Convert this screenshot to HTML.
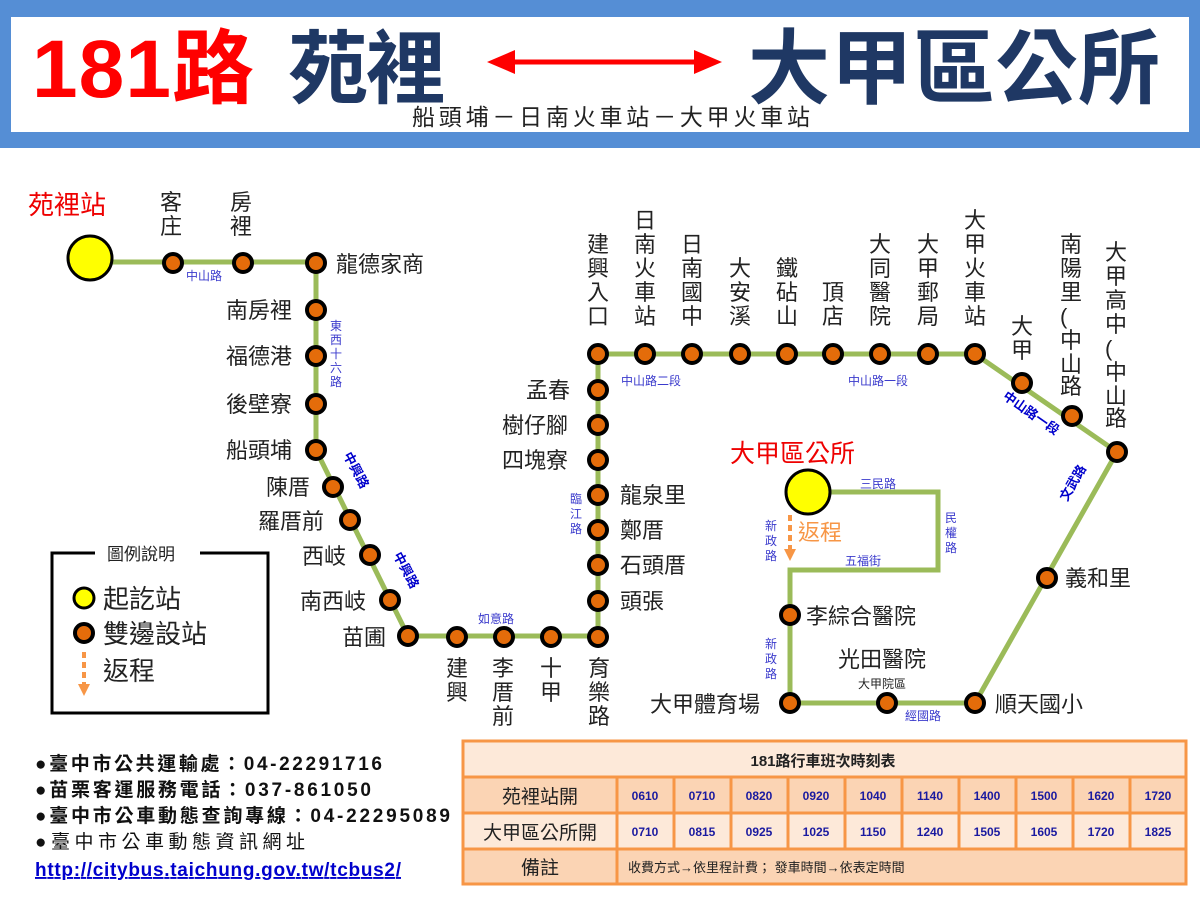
<!DOCTYPE html>
<html><head><meta charset="utf-8"><style>
body{margin:0;width:1200px;height:900px;background:#fff;overflow:hidden}
svg{display:block;font-family:"Liberation Sans","Noto Sans CJK TC",sans-serif}
</style></head><body>
<svg width="1200" height="900" viewBox="0 0 1200 900">
<defs>
<marker id="ah" viewBox="0 0 10 10" refX="5" refY="5" markerWidth="3" markerHeight="3" orient="auto"><path d="M0,0L10,5L0,10z" fill="#f79646"/></marker>
</defs>
<rect x="0" y="0" width="1200" height="148" fill="#558ed5"/>
<rect x="11" y="17" width="1178" height="115" fill="#fff"/>
<text x="32" y="97" font-size="82" font-weight="bold" fill="#f00" textLength="222">181路</text>
<text x="288" y="97" font-size="80" font-weight="bold" fill="#1f3864" textLength="158">苑裡</text>
<line x1="510" y1="62" x2="700" y2="62" stroke="#f00" stroke-width="5"/>
<path d="M487,62L515,50L515,74z" fill="#f00"/><path d="M722,62L694,50L694,74z" fill="#f00"/>
<text x="748" y="97" font-size="82" fill="#1f3864" font-weight="bold" textLength="412">大甲區公所</text>
<text x="412" y="125" font-size="23" fill="#222" textLength="398">船頭埔－日南火車站－大甲火車站</text>

<g fill="none" stroke="#9bbb59" stroke-width="5">
<polyline points="90,262 316,262 316,450 408,636 598,636 598,354 975,354 1117,452 975,703 790,703 790,570 938,570 938,492 808,492"/>
</g>
<line x1="790" y1="515" x2="790" y2="555" stroke="#f79646" stroke-width="4" stroke-dasharray="6,4" marker-end="url(#ah)"/>
<circle cx="90" cy="258" r="22" fill="#ff0" stroke="#000" stroke-width="3"/>
<circle cx="808" cy="492" r="22" fill="#ff0" stroke="#000" stroke-width="3"/>
<g fill="#e46c0a" stroke="#000" stroke-width="4">
<circle cx="173" cy="263" r="9"/><circle cx="243" cy="263" r="9"/><circle cx="316" cy="263" r="9"/>
<circle cx="316" cy="310" r="9"/><circle cx="316" cy="356" r="9"/><circle cx="316" cy="404" r="9"/><circle cx="316" cy="450" r="9"/>
<circle cx="333" cy="487" r="9"/><circle cx="350" cy="520" r="9"/><circle cx="370" cy="555" r="9"/><circle cx="390" cy="600" r="9"/><circle cx="408" cy="636" r="9"/>
<circle cx="457" cy="637" r="9"/><circle cx="504" cy="637" r="9"/><circle cx="551" cy="637" r="9"/><circle cx="598" cy="637" r="9"/>
<circle cx="598" cy="601" r="9"/><circle cx="598" cy="565" r="9"/><circle cx="598" cy="530" r="9"/><circle cx="598" cy="495" r="9"/><circle cx="598" cy="460" r="9"/><circle cx="598" cy="425" r="9"/><circle cx="598" cy="390" r="9"/>
<circle cx="598" cy="354" r="9"/><circle cx="645" cy="354" r="9"/><circle cx="692" cy="354" r="9"/><circle cx="740" cy="354" r="9"/><circle cx="787" cy="354" r="9"/><circle cx="833" cy="354" r="9"/><circle cx="880" cy="354" r="9"/><circle cx="928" cy="354" r="9"/><circle cx="975" cy="354" r="9"/>
<circle cx="1022" cy="383" r="9"/><circle cx="1072" cy="416" r="9"/><circle cx="1117" cy="452" r="9"/>
<circle cx="1047" cy="578" r="9"/><circle cx="975" cy="703" r="9"/><circle cx="887" cy="703" r="9"/><circle cx="790" cy="703" r="9"/><circle cx="790" cy="615" r="9"/>
</g>

<g font-size="22" fill="#222">
<text x="28" y="214" font-size="26" fill="#e00">苑裡站</text>
<text x="160" y="210">客</text><text x="160" y="234">庄</text>
<text x="230" y="210">房</text><text x="230" y="234">裡</text>
<text x="336" y="272">龍德家商</text>
<text x="226" y="318">南房裡</text><text x="226" y="364">福德港</text><text x="226" y="412">後壁寮</text><text x="226" y="458">船頭埔</text>
<text x="266" y="495">陳厝</text><text x="258" y="529">羅厝前</text><text x="302" y="564">西岐</text><text x="300" y="609">南西岐</text><text x="342" y="645">苗圃</text>
<text x="446" y="676">建</text><text x="446" y="700">興</text>
<text x="492" y="676">李</text><text x="492" y="700">厝</text><text x="492" y="724">前</text>
<text x="540" y="676">十</text><text x="540" y="700">甲</text>
<text x="588" y="676">育</text><text x="588" y="700">樂</text><text x="588" y="724">路</text>
<text x="526" y="398">孟春</text><text x="502" y="433">樹仔腳</text><text x="502" y="468">四塊寮</text>
<text x="620" y="503">龍泉里</text><text x="620" y="538">鄭厝</text><text x="620" y="573">石頭厝</text><text x="620" y="609">頭張</text>
</g>
<g font-size="22" fill="#222">
<text x="587" y="252">建</text><text x="587" y="276">興</text><text x="587" y="300">入</text><text x="587" y="324">口</text>
<text x="634" y="228">日</text><text x="634" y="252">南</text><text x="634" y="276">火</text><text x="634" y="300">車</text><text x="634" y="324">站</text>
<text x="681" y="252">日</text><text x="681" y="276">南</text><text x="681" y="300">國</text><text x="681" y="324">中</text>
<text x="729" y="276">大</text><text x="729" y="300">安</text><text x="729" y="324">溪</text>
<text x="776" y="276">鐵</text><text x="776" y="300">砧</text><text x="776" y="324">山</text>
<text x="822" y="300">頂</text><text x="822" y="324">店</text>
<text x="869" y="252">大</text><text x="869" y="276">同</text><text x="869" y="300">醫</text><text x="869" y="324">院</text>
<text x="917" y="252">大</text><text x="917" y="276">甲</text><text x="917" y="300">郵</text><text x="917" y="324">局</text>
<text x="964" y="228">大</text><text x="964" y="252">甲</text><text x="964" y="276">火</text><text x="964" y="300">車</text><text x="964" y="324">站</text>
<text x="1011" y="334">大</text><text x="1011" y="358">甲</text>
<text x="1060" y="252">南</text><text x="1060" y="276">陽</text><text x="1060" y="300">里</text><text x="1060" y="324">(</text><text x="1060" y="348">中</text><text x="1060" y="372">山</text><text x="1060" y="394">路</text>
<text x="1105" y="260">大</text><text x="1105" y="284">甲</text><text x="1105" y="308">高</text><text x="1105" y="332">中</text><text x="1105" y="356">(</text><text x="1105" y="380">中</text><text x="1105" y="404">山</text><text x="1105" y="426">路</text>
<text x="1065" y="586">義和里</text><text x="995" y="712">順天國小</text>
<text x="650" y="712">大甲體育場</text><text x="806" y="624">李綜合醫院</text><text x="838" y="667">光田醫院</text>
<text x="730" y="462" font-size="25" fill="#e00">大甲區公所</text>
<text x="798" y="540" fill="#f79646">返程</text>
</g>
<g font-size="12" fill="#3a3acc">
<text x="186" y="280">中山路</text>
<text x="330" y="330">東</text><text x="330" y="344">西</text><text x="330" y="358">十</text><text x="330" y="372">六</text><text x="330" y="386">路</text>
<text x="621" y="385">中山路二段</text><text x="848" y="385">中山路一段</text>
<text x="478" y="623">如意路</text>
<text x="570" y="503">臨</text><text x="570" y="518">江</text><text x="570" y="533">路</text>
<text x="860" y="488">三民路</text>
<text x="945" y="522">民</text><text x="945" y="537">權</text><text x="945" y="552">路</text>
<text x="845" y="565">五福街</text>
<text x="765" y="530">新</text><text x="765" y="545">政</text><text x="765" y="560">路</text>
<text x="765" y="648">新</text><text x="765" y="663">政</text><text x="765" y="678">路</text>
<text x="858" y="688" fill="#222">大甲院區</text><text x="905" y="720">經國路</text>
</g>
<g font-size="13" font-weight="bold" fill="#00c">
<text transform="translate(343,455) rotate(62)">中興路</text>
<text transform="translate(393,555) rotate(62)">中興路</text>
<text transform="translate(1002,398) rotate(35)">中山路一段</text>
<text transform="translate(1067,502) rotate(-60)">文武路</text>
</g>

<path d="M95,553H52V713H268V553H200" fill="none" stroke="#000" stroke-width="3"/>
<text x="107" y="560" font-size="17" fill="#222">圖例說明</text>
<circle cx="84" cy="598" r="10" fill="#ff0" stroke="#000" stroke-width="3"/>
<circle cx="84" cy="633" r="9" fill="#e46c0a" stroke="#000" stroke-width="4"/>
<line x1="84" y1="652" x2="84" y2="690" stroke="#f79646" stroke-width="4" stroke-dasharray="6,4" marker-end="url(#ah)"/>
<g font-size="26" fill="#222"><text x="103" y="608">起訖站</text><text x="103" y="643">雙邊設站</text><text x="103" y="680">返程</text></g>

<g font-size="19" fill="#111" font-weight="bold">
<text x="35" y="770" textLength="347">●臺中市公共運輸處：04-22291716</text>
<text x="35" y="796" textLength="336">●苗栗客運服務電話：037-861050</text>
<text x="35" y="822" textLength="415">●臺中市公車動態查詢專線：04-22295089</text>
<text x="35" y="848" font-weight="normal" textLength="270">●臺中市公車動態資訊網址</text>
<text x="35" y="876" fill="#00c" text-decoration="underline" textLength="366">http://citybus.taichung.gov.tw/tcbus2/</text>
</g>

<g stroke="#f79646" stroke-width="3">
<rect x="463" y="741" width="723" height="143" fill="#fde9d9"/>
<rect x="463" y="777" width="723" height="36" fill="#fbd4b4"/>
<rect x="463" y="849" width="723" height="35" fill="#fbd4b4"/>
<line x1="463" y1="813" x2="1186" y2="813"/>
<line x1="617" y1="777" x2="617" y2="884"/>
<line x1="674" y1="777" x2="674" y2="849"/><line x1="731" y1="777" x2="731" y2="849"/><line x1="788" y1="777" x2="788" y2="849"/><line x1="845" y1="777" x2="845" y2="849"/><line x1="902" y1="777" x2="902" y2="849"/><line x1="959" y1="777" x2="959" y2="849"/><line x1="1016" y1="777" x2="1016" y2="849"/><line x1="1073" y1="777" x2="1073" y2="849"/><line x1="1130" y1="777" x2="1130" y2="849"/>
</g>
<g font-size="19" fill="#222" text-anchor="middle">
<text x="823" y="766" font-size="15" font-weight="bold">181路行車班次時刻表</text>
<text x="540" y="803">苑裡站開</text><text x="540" y="839">大甲區公所開</text><text x="540" y="874">備註</text>
</g>
<g font-size="12" font-weight="bold" fill="#1a1aa0" text-anchor="middle">
<text x="645" y="800">0610</text><text x="702" y="800">0710</text><text x="759" y="800">0820</text><text x="816" y="800">0920</text><text x="873" y="800">1040</text><text x="930" y="800">1140</text><text x="987" y="800">1400</text><text x="1044" y="800">1500</text><text x="1101" y="800">1620</text><text x="1158" y="800">1720</text>
<text x="645" y="836">0710</text><text x="702" y="836">0815</text><text x="759" y="836">0925</text><text x="816" y="836">1025</text><text x="873" y="836">1150</text><text x="930" y="836">1240</text><text x="987" y="836">1505</text><text x="1044" y="836">1605</text><text x="1101" y="836">1720</text><text x="1158" y="836">1825</text>
</g>
<text x="628" y="872" font-size="13" fill="#222">收費方式→依里程計費； 發車時間→依表定時間</text>
</svg>
</body></html>
